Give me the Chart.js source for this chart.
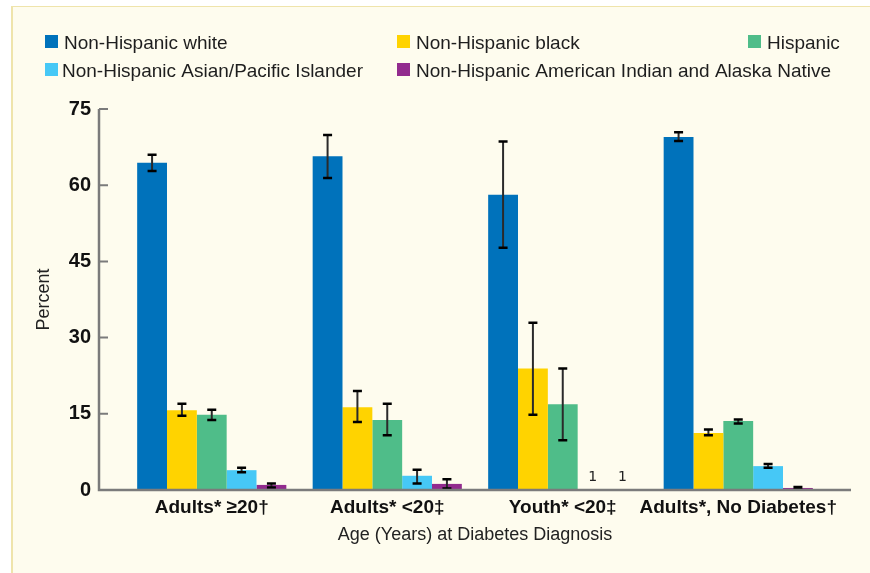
<!DOCTYPE html>
<html>
<head>
<meta charset="utf-8">
<script src="https://cdn.jsdelivr.net/npm/chart.js@4"></script>
<style>
  html, body { margin: 0; padding: 0; background: #fff; }
</style>
</head>
<body>
<canvas id="myChart" width="870" height="573"></canvas>
<script>
const categories = ['Adults* ≥20†', 'Adults* <20‡', 'Youth* <20‡', 'Adults*, No Diabetes†'];
const groupNames = [
  'Non-Hispanic white',
  'Non-Hispanic black',
  'Hispanic',
  'Non-Hispanic Asian/Pacific Islander',
  'Non-Hispanic American Indian and Alaska Native',
];
const yTicks = [0, 15, 30, 45, 60, 75];

const white = [64.4, 65.7, 58.1, 69.5];
const whiteLow = [62.8, 61.4, 47.7, 68.7];
const whiteHigh = [66.0, 69.9, 68.6, 70.4];

const black = [15.7, 16.3, 23.9, 11.2];
const blackLow = [14.6, 13.4, 14.8, 10.8];
const blackHigh = [17.0, 19.5, 32.9, 11.9];

const hispanic = [14.8, 13.8, 16.9, 13.6];
const hispanicLow = [13.8, 10.8, 9.8, 13.1];
const hispanicHigh = [15.8, 17.0, 23.9, 13.9];

const asian = [3.9, 2.8, null, 4.7];
const asianLow = [3.5, 1.3, null, 4.4];
const asianHigh = [4.4, 4.0, null, 5.1];

const aian = [1.0, 1.2, null, 0.4];
const aianLow = [0.5, 0.3, null, 0.2];
const aianHigh = [1.3, 2.1, null, 0.6];

// footnote shown where an estimate is suppressed
const suppressedNote = '1';

const colors = ['#0072bb', '#ffd300', '#4fbd89', '#46c8f6', '#922b8e'];
const values = [white, black, hispanic, asian, aian];
const lows = [whiteLow, blackLow, hispanicLow, asianLow, aianLow];
const highs = [whiteHigh, blackHigh, hispanicHigh, asianHigh, aianHigh];

const FONT = '"Liberation Sans", Arial, sans-serif';

const background = {
  id: 'background',
  beforeDraw(chart) {
    const c = chart.ctx;
    c.save();
    c.fillStyle = '#ffffff';
    c.fillRect(0, 0, chart.width, chart.height);
    c.fillStyle = '#fefcee';
    c.fillRect(12, 6, chart.width - 12, chart.height - 6);
    c.fillStyle = '#efe4ab';
    c.fillRect(11, 6, 2, chart.height - 6);
    c.fillRect(11, 6, chart.width - 11, 1);
    c.restore();
  },
};

const legendBoxes = {
  id: 'legendBoxes',
  afterDraw(chart) {
    const c = chart.ctx;
    const spots = [[45, 35], [397, 35], [748, 35], [45, 63], [397, 63]];
    c.save();
    c.font = '19px ' + FONT;
    c.textBaseline = 'alphabetic';
    chart.data.datasets.forEach((ds, i) => {
      const [x, y] = spots[i];
      c.fillStyle = ds.backgroundColor;
      c.fillRect(x, y, 13, 13);
      c.fillStyle = '#1e1e1e';
      c.fillText(ds.label, x + (i === 3 ? 17 : 19), y + 13.5);
    });
    c.restore();
  },
};

const axesAndErrors = {
  id: 'axesAndErrors',
  afterDatasetsDraw(chart) {
    const c = chart.ctx;
    const ys = chart.scales.y;
    const area = chart.chartArea;
    const axisX = area.left - 25;
    const y0 = ys.getPixelForValue(0);
    c.save();
    // error bars
    chart.data.datasets.forEach((ds, i) => {
      const meta = chart.getDatasetMeta(i);
      meta.data.forEach((bar, j) => {
        if (lows[i][j] == null) return;
        const yl = ys.getPixelForValue(lows[i][j]);
        const yh = ys.getPixelForValue(highs[i][j]);
        c.strokeStyle = '#2a2a2a';
        c.lineWidth = 2;
        c.beginPath();
        c.moveTo(bar.x, yh);
        c.lineTo(bar.x, yl);
        c.stroke();
        c.strokeStyle = '#000';
        c.lineWidth = 2.5;
        c.beginPath();
        c.moveTo(bar.x - 4.5, yh);
        c.lineTo(bar.x + 4.5, yh);
        c.moveTo(bar.x - 4.5, yl);
        c.lineTo(bar.x + 4.5, yl);
        c.stroke();
      });
      // footnote marks for suppressed values
      meta.data.forEach((bar, j) => {
        if (ds.data[j] != null) return;
        c.fillStyle = '#222';
        c.font = '14px "DejaVu Sans", sans-serif';
        c.textAlign = 'center';
        c.textBaseline = 'middle';
        c.fillText(suppressedNote, bar.x, y0 - 13);
      });
    });
    // axis lines
    c.strokeStyle = '#7b7b7b';
    c.lineWidth = 2.5;
    c.beginPath();
    c.moveTo(axisX, ys.getPixelForValue(75));
    c.lineTo(axisX, y0);
    c.lineTo(area.right + 25, y0);
    c.stroke();
    c.lineWidth = 2;
    c.beginPath();
    yTicks.forEach(t => {
      if (t === 0) return;
      const py = ys.getPixelForValue(t);
      c.moveTo(axisX, py);
      c.lineTo(axisX + 9, py);
    });
    c.stroke();
    c.restore();
  },
};

const ctx = document.getElementById('myChart').getContext('2d');

const myChart = new Chart(ctx, {
  type: 'bar',
  data: {
    labels: categories,
    datasets: groupNames.map((name, i) => ({
      label: name,
      data: values[i],
      backgroundColor: colors[i],
      borderWidth: 0,
      categoryPercentage: 0.85,
      barPercentage: 1.0,
    })),
  },
  options: {
    responsive: false,
    animation: false,
    layout: {
      padding: { top: 109, right: 44, left: 0, bottom: 0 },
    },
    plugins: {
      legend: { display: false },
      tooltip: { enabled: false },
    },
    scales: {
      x: {
        grid: { display: false, drawTicks: false },
        border: { display: false },
        ticks: {
          color: '#111',
          padding: 6,
          maxRotation: 0,
          minRotation: 0,
          autoSkip: false,
          font: { family: FONT, size: 19, weight: 'bold' },
        },
        title: {
          display: true,
          text: 'Age (Years) at Diabetes Diagnosis',
          color: '#222',
          font: { family: FONT, size: 18 },
          padding: { top: 0, bottom: 27 },
        },
        afterFit(scale) { scale.height = 83; },
      },
      y: {
        min: 0,
        max: 75,
        grid: { display: false, drawTicks: false },
        border: { display: false },
        afterBuildTicks(scale) { scale.ticks = yTicks.map(v => ({ value: v })); },
        ticks: {
          color: '#111',
          padding: 33,
          font: { family: FONT, size: 20, weight: 'bold' },
        },
        title: {
          display: true,
          text: 'Percent',
          color: '#222',
          font: { family: FONT, size: 18 },
          padding: { top: 33, bottom: 0 },
        },
        afterFit(scale) { scale.width = 124; },
      },
    },
  },
  plugins: [background, legendBoxes, axesAndErrors],
});
</script>
</body>
</html>
